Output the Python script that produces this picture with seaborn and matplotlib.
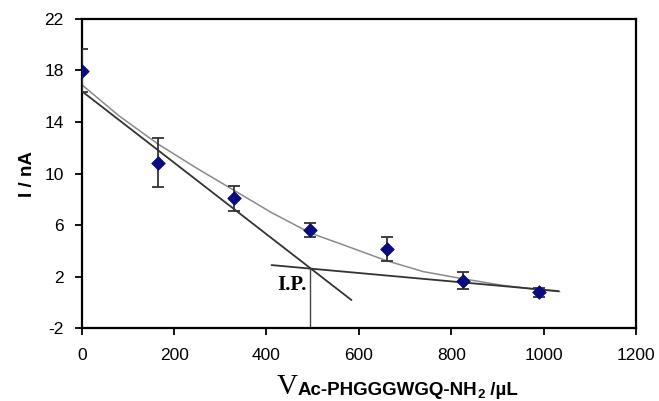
import numpy as np
import pandas as pd
import matplotlib
matplotlib.use("Agg")
import matplotlib.pyplot as plt
import seaborn as sns

# measured points (volume in uL, current in nA)
vol = [0, 165, 330, 495, 660, 825, 990]
current = [17.95, 10.8, 8.08, 5.62, 4.12, 1.67, 0.79]
err_top = [19.63, 12.8, 9.05, 6.19, 5.05, 2.34, 1.1]
err_bottom = [16.3, 8.93, 7.09, 5.1, 3.24, 1.05, 0.45]

# smooth trend curve
fit_x = [0, 80, 165, 250, 330, 410, 495, 580, 660, 740, 825, 910, 990, 1035]
fit_y = [16.9, 14.5, 12.3, 10.4, 8.7, 7.0, 5.4, 4.3, 3.25, 2.4, 1.85, 1.35, 1.0, 0.85]

# tangent lines and intersection point
steep_x = [0, 584]
steep_y = [16.4, 0.2]
flat_x = [411, 1033]
flat_y = [2.91, 0.89]
ip_x = [495, 495]
ip_y = [-2, 2.7]

x_ticks = [0, 200, 400, 600, 800, 1000, 1200]
y_ticks = [-2, 2, 6, 10, 14, 18, 22]

sns.set_style("ticks")
plt.rcParams['font.family'] = ['Liberation Sans', 'DejaVu Sans']
plt.rcParams['axes.unicode_minus'] = False
plt.rcParams['text.color'] = 'black'
plt.rcParams['xtick.color'] = 'black'
plt.rcParams['ytick.color'] = 'black'
plt.rcParams['axes.labelcolor'] = 'black'

fig = plt.figure(figsize=(6.59, 4.01), dpi=100)
ax = fig.add_axes([0.124, 0.181, 0.841, 0.772])

pts = pd.DataFrame({'vol': vol, 'current': current})
curve = pd.DataFrame({'x': fit_x, 'y': fit_y})

sns.lineplot(data=curve, x='x', y='y', ax=ax, color='#8a8a8a', linewidth=1.1,
             sort=False, estimator=None)
sns.lineplot(x=steep_x, y=steep_y, ax=ax, color='#333333', linewidth=1.3, estimator=None)
sns.lineplot(x=flat_x, y=flat_y, ax=ax, color='#333333', linewidth=1.3, estimator=None)
sns.lineplot(x=ip_x, y=ip_y, ax=ax, color='#444444', linewidth=1.0, sort=False,
             estimator=None)

yerr = [np.array(current) - np.array(err_bottom), np.array(err_top) - np.array(current)]
ax.errorbar(vol, current, yerr=yerr, fmt='none', ecolor='#333333', elinewidth=1.3,
            capsize=4.5, capthick=1.3, zorder=3)
sns.scatterplot(data=pts, x='vol', y='current', ax=ax, marker='D', s=48,
                color='#0b0b80', edgecolor='#0b0b80', zorder=4)

ax.text(487, 1.0, 'I.P.', ha='right', va='baseline', fontsize=15, fontweight='bold',
        family=['Liberation Serif', 'DejaVu Serif'])

ax.set_xlim(0, 1200)
ax.set_ylim(-2, 22)
ax.set_xticks(x_ticks)
ax.set_yticks(y_ticks)
ax.tick_params(which='both', direction='out', bottom=True, left=True, top=False,
               right=False, labelsize=12.5, length=5, width=1.3, color='black')
ax.tick_params(axis='x', pad=9)
ax.tick_params(axis='y', pad=8)
for s in ax.spines.values():
    s.set_linewidth(1.6)
    s.set_color('black')

ax.set_xlabel('')
ax.set_ylabel('I / nA', fontsize=13.5, fontweight='bold', labelpad=6)

# composite x label: serif V followed by bold sans subscript text
fig.canvas.draw()
renderer = fig.canvas.get_renderer()
x0 = 277 / 659
base = 6 / 401
parts = [('V', dict(fontsize=21, family=['Liberation Serif']), 0.002),
         ('Ac-PHGGGWGQ-NH', dict(fontsize=13.5, fontweight='bold'), 0.0),
         ('2', dict(fontsize=9.5, fontweight='bold'), -2.5 / 401),
         (' /\u00b5L', dict(fontsize=13.5, fontweight='bold'), 0.0)]
for txt, kw, dy in parts:
    t = fig.text(x0, base + dy, txt, ha='left', va='baseline', **kw)
    bb = t.get_window_extent(renderer)
    x0 += bb.width / fig.bbox.width

fig.savefig('out.png', dpi=100)
